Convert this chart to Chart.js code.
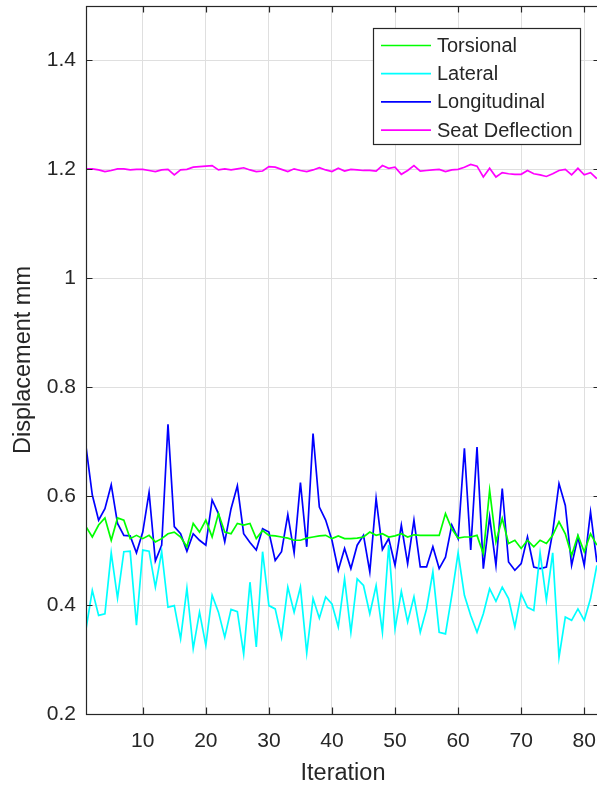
<!DOCTYPE html>
<html>
<head>
<meta charset="utf-8">
<script src="https://cdn.jsdelivr.net/npm/chart.js@4.4.1/dist/chart.umd.min.js"></script>
<style>
  html, body { margin: 0; padding: 0; background: #fff; overflow: hidden; }
</style>
</head>
<body>
<canvas id="chart" width="603" height="789"></canvas>
<script>
// data
const iterations = [];
for (let i = 1; i <= 82; i++) iterations.push(i);

const torsional = [
  0.544,0.525,0.547,0.560,0.519,0.560,0.556,0.522,0.528,0.522,0.528,0.516,0.522,0.531,0.534,0.525,0.507,0.550,0.534,0.556,0.525,0.568,0.534,0.531,0.550,0.547,0.550,
  0.522,0.537,0.528,0.527,0.525,0.523,0.519,0.519,0.523,0.525,0.527,0.528,0.522,0.527,0.522,0.522,0.523,0.525,
  0.534,0.528,0.531,0.525,0.527,0.531,0.525,0.529,0.528,0.528,0.528,0.528,0.568,0.540,0.523,0.525,0.525,
  0.528,0.494,0.611,0.516,0.559,0.513,0.519,0.504,0.519,0.507,0.519,0.513,0.528,0.553,0.531,0.491,0.528,0.498,0.531,0.510
];
const lateral = [
  0.356,0.427,0.381,0.384,0.496,0.413,0.498,0.499,0.363,0.501,0.499,0.433,0.498,0.396,0.399,0.338,0.431,0.320,0.387,0.326,0.418,0.387,0.341,0.392,0.388,0.310,0.442,
  0.323,0.498,0.399,0.393,0.341,0.433,0.387,0.433,0.312,0.412,0.376,0.415,0.402,0.360,0.448,0.350,0.448,0.436,
  0.384,0.436,0.350,0.510,0.356,0.425,0.369,0.415,0.350,0.393,0.461,0.350,0.347,0.418,0.496,0.418,0.381,
  0.350,0.384,0.430,0.407,0.433,0.412,0.360,0.421,0.396,0.390,0.496,0.409,0.496,0.304,0.378,0.372,0.393,0.372,0.412,0.473
];
const longitudinal = [
  0.691,0.602,0.556,0.577,0.621,0.550,0.528,0.527,0.496,0.534,0.607,0.481,0.510,0.732,0.544,0.531,0.499,0.531,0.519,0.510,0.593,0.568,0.516,0.577,0.619,0.531,0.515,
  0.501,0.540,0.534,0.482,0.498,0.566,0.496,0.625,0.507,0.715,0.580,0.556,0.519,0.464,0.504,0.467,0.510,0.528,
  0.461,0.596,0.502,0.522,0.473,0.547,0.476,0.556,0.470,0.470,0.507,0.467,0.488,0.547,0.522,0.688,0.501,
  0.690,0.467,0.562,0.473,0.614,0.479,0.464,0.476,0.525,0.470,0.467,0.470,0.534,0.623,0.583,0.473,0.525,0.473,0.571,0.479
];
const seatDeflection = [
  1.201,1.201,1.199,1.196,1.198,1.201,1.201,1.199,1.200,1.200,1.198,1.196,1.199,1.200,1.190,1.199,1.200,1.204,1.205,1.206,
  1.207,1.199,1.201,1.199,1.201,1.203,1.199,1.196,1.197,1.205,1.204,1.200,1.196,1.201,1.198,1.196,1.199,1.203,1.199,1.196,
  1.202,1.197,1.200,1.199,1.198,1.198,1.197,1.207,1.202,1.204,1.191,1.198,1.207,1.197,1.198,1.199,1.200,1.196,1.199,1.200,
  1.204,1.209,1.206,1.186,1.202,1.186,1.194,1.192,1.191,1.191,1.198,1.192,1.190,1.187,1.192,1.198,1.200,1.190,1.202,1.190,
  1.194,1.183
];

const xTicks = [10, 20, 30, 40, 50, 60, 70, 80];
const yTicks = [0.2, 0.4, 0.6, 0.8, 1.0, 1.2, 1.4];

const axisColor = '#262626';
const gridColor = '#dfdfdf';
const fontFamily = '"Liberation Sans", Arial, sans-serif';

function series(label, values, color) {
  return {
    label: label,
    data: values.map((v, i) => ({ x: iterations[i], y: v })),
    borderColor: color,
    backgroundColor: color,
    borderWidth: 1.7,
    pointRadius: 0,
    tension: 0,
    fill: false
  };
}

// box around the axes with inward tick marks (matlab style)
const axesBox = {
  id: 'axesBox',
  afterDatasetsDraw(chart) {
    const { ctx, chartArea: a, scales } = chart;
    ctx.save();
    ctx.strokeStyle = axisColor;
    ctx.lineWidth = 1.2;
    ctx.strokeRect(a.left + 0.5, a.top + 0.5, a.right - a.left, a.bottom - a.top);
    const len = 6.5;
    ctx.beginPath();
    xTicks.forEach(v => {
      const px = Math.round(scales.x.getPixelForValue(v)) + 0.5;
      ctx.moveTo(px, a.bottom); ctx.lineTo(px, a.bottom - len);
      ctx.moveTo(px, a.top); ctx.lineTo(px, a.top + len);
    });
    yTicks.forEach(v => {
      const py = Math.round(scales.y.getPixelForValue(v)) + 0.5;
      ctx.moveTo(a.left, py); ctx.lineTo(a.left + len, py);
      ctx.moveTo(a.right, py); ctx.lineTo(a.right - len, py);
    });
    ctx.stroke();
    ctx.restore();
  }
};

// legend box in the upper right
const boxLegend = {
  id: 'boxLegend',
  afterDraw(chart) {
    const ctx = chart.ctx;
    ctx.save();
    ctx.fillStyle = '#fff';
    ctx.fillRect(373.5, 28.5, 207, 116);
    ctx.strokeStyle = axisColor;
    ctx.lineWidth = 1.2;
    ctx.strokeRect(373.5, 28.5, 207, 116);
    ctx.font = '20px ' + fontFamily;
    ctx.textBaseline = 'middle';
    ctx.textAlign = 'left';
    chart.data.datasets.forEach((ds, i) => {
      const y = 45.5 + 28.2 * i;
      ctx.strokeStyle = ds.borderColor;
      ctx.lineWidth = 1.7;
      ctx.beginPath();
      ctx.moveTo(381, y); ctx.lineTo(431, y);
      ctx.stroke();
      ctx.fillStyle = axisColor;
      ctx.fillText(ds.label, 437, y + 1);
    });
    ctx.restore();
  }
};

const chart = new Chart(document.getElementById('chart'), {
  type: 'line',
  data: {
    datasets: [
      series('Torsional', torsional, '#00ff00'),
      series('Lateral', lateral, '#00ffff'),
      series('Longitudinal', longitudinal, '#0000ff'),
      series('Seat Deflection', seatDeflection, '#ff00ff')
    ]
  },
  options: {
    responsive: false,
    animation: false,
    devicePixelRatio: 1,
    layout: { padding: { top: 6, right: 3, left: 0, bottom: 0 } },
    plugins: {
      legend: { display: false },
      tooltip: { enabled: false }
    },
    scales: {
      x: {
        type: 'linear',
        min: 1,
        max: 82.5,
        afterBuildTicks: s => { s.ticks = xTicks.map(v => ({ value: v })); },
        afterFit: s => { s.height = 75; s.paddingLeft = 0; s.paddingRight = 0; },
        grid: { color: gridColor, drawTicks: false },
        border: { display: false },
        ticks: {
          padding: 15,
          color: axisColor,
          font: { family: fontFamily, size: 21 },
          maxRotation: 0
        },
        title: {
          display: true,
          text: 'Iteration',
          color: axisColor,
          font: { family: fontFamily, size: 23.5 },
          padding: { top: 0, bottom: 1 }
        }
      },
      y: {
        min: 0.2,
        max: 1.5,
        afterBuildTicks: s => { s.ticks = yTicks.map(v => ({ value: v })); },
        afterFit: s => { s.width = 86; s.paddingTop = 0; s.paddingBottom = 0; },
        grid: { color: gridColor, drawTicks: false },
        border: { display: false },
        ticks: {
          padding: 10,
          color: axisColor,
          font: { family: fontFamily, size: 21 },
          callback: v => String(+v.toFixed(1))
        },
        title: {
          display: true,
          text: 'Displacement mm',
          color: axisColor,
          font: { family: fontFamily, size: 23.5 },
          padding: { top: 9, bottom: 0 }
        }
      }
    }
  },
  plugins: [axesBox, boxLegend]
});
</script>
</body>
</html>
